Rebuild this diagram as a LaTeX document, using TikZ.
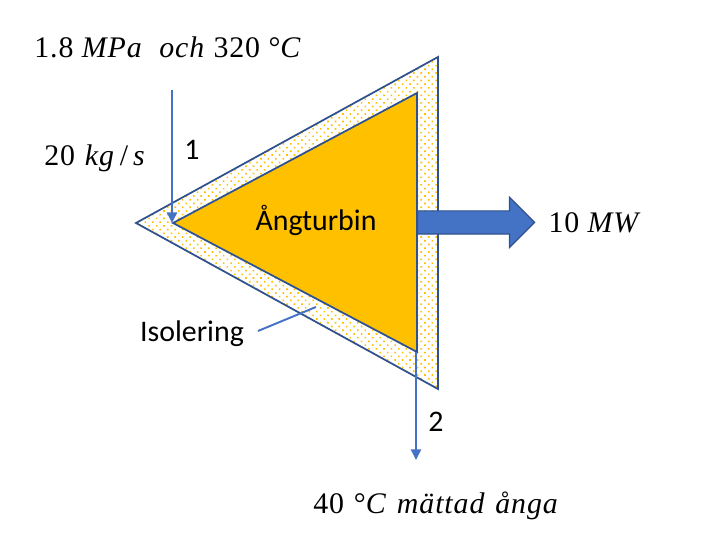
\documentclass[tikz,border=0pt]{standalone}
\usepackage{fontspec}
\setmainfont{Carlito}
\newfontfamily\mathlike[LetterSpace=3]{Liberation Serif}
\usepackage{xcolor}
\definecolor{edgeblue}{HTML}{2F528F}
\definecolor{flowblue}{HTML}{4472C4}
\definecolor{turbinefill}{HTML}{FFC000}
\usepackage{tikz}
\usetikzlibrary{arrows.meta, positioning, patterns.meta, shapes.arrows}
\newcommand{\mi}[1]{\textit{#1}}

\begin{document}
\begin{tikzpicture}[
  font=\fontsize{17}{20}\selectfont,
  quantity/.style={font=\fontsize{17}{20}\selectfont\mathlike},
  shell/.style={
    draw=edgeblue, line width=1pt,
    pattern={Dots[angle=45, distance=3pt, radius=0.65pt]}, pattern color=turbinefill
  },
  turbine/.style={draw=edgeblue, fill=turbinefill, line width=1pt},
  flow/.style={draw=flowblue, line width=1.1pt, -{Triangle[length=2.1mm, width=2mm]}},
  powerarrow/.style={
    single arrow, draw=edgeblue, fill=flowblue, line width=0.7pt,
    inner xsep=0pt, inner ysep=0.22cm,
    minimum width=0.98cm, minimum height=2.34cm,
    single arrow head extend=0.27cm, single arrow head indent=0pt
  }
]
  \useasboundingbox (0,0) rectangle (14.08,10.78);

  \coordinate (o1) at (2.72,6.32);
  \coordinate (o2) at (8.76,9.64);
  \coordinate (o3) at (8.76,3.00);
  \coordinate (i1) at (3.46,6.32);
  \coordinate (i2) at (8.34,8.92);
  \coordinate (i3) at (8.34,3.74);

  \draw[shell] (o1) -- (o2) -- (o3) -- cycle;
  \draw[turbine] (i1) -- (i2) -- (i3) -- cycle;
  \node[powerarrow, anchor=tail] (power) at (8.34,6.33) {};

  \coordinate (inlet) at (3.44,8.98);
  \coordinate (inletend) at (3.44,6.32);
  \coordinate (outlet) at (8.32,3.74);
  \coordinate (outletend) at (8.32,1.58);
  \draw[flow] (inlet) -- (inletend);
  \draw[flow] (outlet) -- (outletend);

  \node (turbname) at (6.32,6.38) {Ångturbin};
  \node (isolabel) at (3.84,4.10) {Isolering};
  \coordinate (isotip) at (6.32,4.64);
  \coordinate (isostart) at (5.16,4.16);
  \draw[flowblue, line width=1.1pt] (isostart) -- (isotip);

  \node (one) at (3.84,7.78) {1};
  \node (two) at (8.72,2.34) {2};

  \node[quantity] (instate) at (3.36,9.84) {1.8 \mi{MPa}\ \ \mi{och} 320 °\mi{C}};
  \node[quantity] (massflow) at (1.90,7.62) {20\,\,\mi{kg}\,/\,\mi{s}};
  \node[quantity] (powerval) at (11.90,6.32) {10 \mi{MW}};
  \node[quantity] (outstate) at (8.72,0.66) {40\,\,°\mi{C}\,\,\mi{mättad}\,\,\mi{ånga}};
\end{tikzpicture}
\end{document}
